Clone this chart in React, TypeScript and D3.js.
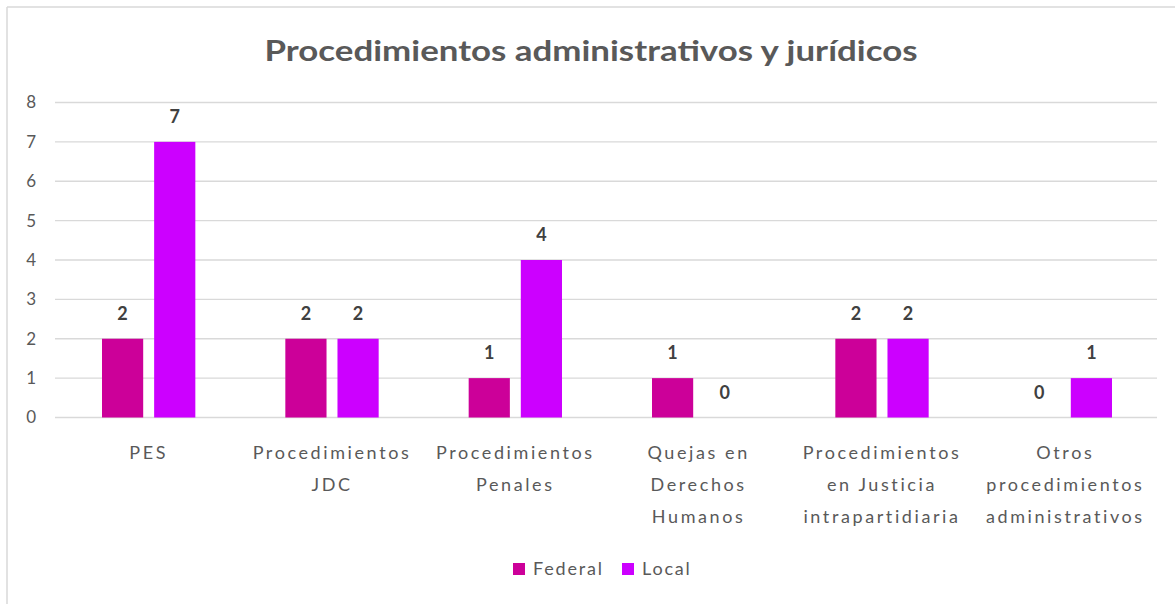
import React from "react";
import * as d3 from "d3";

const title = "Procedimientos administrativos y jurídicos";
const categories: string[][] = [
  ["PES"],
  ["Procedimientos", "JDC"],
  ["Procedimientos", "Penales"],
  ["Quejas en", "Derechos", "Humanos"],
  ["Procedimientos", "en Justicia", "intrapartidiaria"],
  ["Otros", "procedimientos", "administrativos"],
];
const seriesNames = ["Federal", "Local"];
const federal = [2, 2, 1, 1, 2, 0];
const local = [7, 2, 4, 0, 2, 1];
const yTicks = [0, 1, 2, 3, 4, 5, 6, 7, 8];
const colors = ["#CC0099", "#CC00FF"];

const W = 1175;
const H = 604;
const FONT = "Lato, 'Open Sans', sans-serif";
const TEXT = "#595959";

export default function App() {
  const plotLeft = 55;
  const plotRight = 1157;
  const plotTop = 102.5;
  const plotBottom = 417.5;

  const x0 = d3
    .scaleBand<number>()
    .domain(categories.map((_, i) => i))
    .range([plotLeft + 2, plotRight])
    .padding(0);
  const step = x0.step();
  const x1 = d3
    .scaleBand<string>()
    .domain(seriesNames)
    .range([45, step - 45])
    .paddingInner(0.21);
  const y = d3.scaleLinear().domain([0, 8]).range([plotBottom, plotTop]);

  const series = [federal, local];

  return (
    <svg
      width={W}
      height={H}
      style={{ position: "absolute", left: 0, top: 0, background: "#fff" }}
    >
      <rect x={0} y={0} width={W} height={H} fill="#fff" />
      <line x1={7} y1={7} x2={W} y2={7} stroke="#d9d9d9" strokeWidth={1.5} />
      <line x1={7} y1={7} x2={7} y2={H} stroke="#d9d9d9" strokeWidth={1.5} />

      <text
        x={591}
        y={61}
        textAnchor="middle"
        fontFamily={FONT}
        fontWeight="bold"
        fontSize={28}
        fill={TEXT}
        textLength={653}
        lengthAdjust="spacingAndGlyphs"
      >
        {title}
      </text>

      {yTicks.map((t) => (
        <g key={t}>
          <line
            x1={plotLeft}
            x2={plotRight}
            y1={y(t)}
            y2={y(t)}
            stroke="#d9d9d9"
            strokeWidth={1.3}
          />
          <text
            x={36}
            y={y(t)}
            dy="0.35em"
            textAnchor="end"
            fontFamily={FONT}
            fontSize={17}
            fill={TEXT}
          >
            {t}
          </text>
        </g>
      ))}

      {categories.map((lines, i) => (
        <g key={i} transform={`translate(${x0(i)},0)`}>
          {series.map((vals, s) => {
            const v = vals[i];
            const bx = x1(seriesNames[s])!;
            const bw = x1.bandwidth();
            return (
              <g key={s}>
                {v > 0 && (
                  <rect
                    x={bx}
                    y={y(v)}
                    width={bw}
                    height={y(0) - y(v)}
                    fill={colors[s]}
                  />
                )}
                <text
                  x={bx + bw / 2}
                  y={y(v) - 25}
                  dy="0.35em"
                  textAnchor="middle"
                  fontFamily={FONT}
                  fontWeight="bold"
                  fontSize={18}
                  fill="#404040"
                >
                  {v}
                </text>
              </g>
            );
          })}
          {lines.map((ln, k) => (
            <text
              key={k}
              x={step / 2}
              y={453 + k * 32}
              dy="0.35em"
              textAnchor="middle"
              fontFamily={FONT}
              fontSize={18}
              letterSpacing={2.6}
              fill={TEXT}
            >
              {ln}
            </text>
          ))}
        </g>
      ))}

      {seriesNames.map((name, s) => {
        const lx = [513, 622][s];
        return (
          <g key={name}>
            <rect x={lx} y={563} width={12} height={12} fill={colors[s]} />
            <text
              x={lx + 20}
              y={569}
              dy="0.35em"
              fontFamily={FONT}
              fontSize={18}
              letterSpacing={1.8}
              fill={TEXT}
            >
              {name}
            </text>
          </g>
        );
      })}
    </svg>
  );
}
